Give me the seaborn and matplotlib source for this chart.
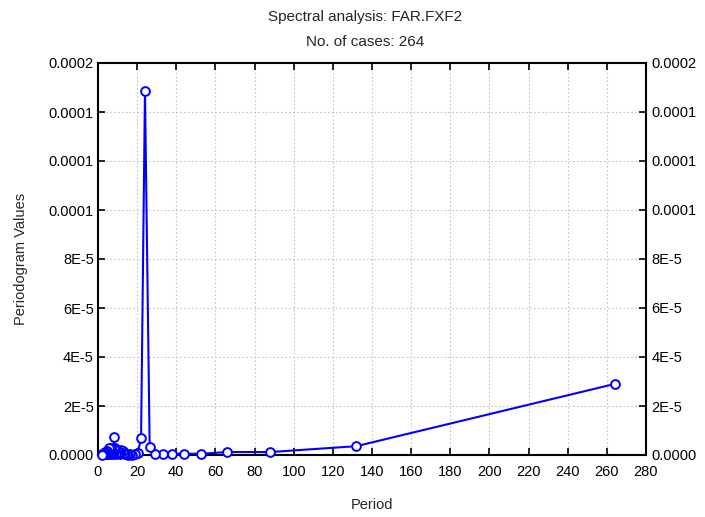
import matplotlib
matplotlib.use("Agg")
import matplotlib.pyplot as plt
import seaborn as sns
import pandas as pd

periods = [264, 132, 88, 66, 52.8, 44, 37.71, 33, 29.33, 26.4, 24, 22, 20.31,
           18.86, 17.6, 16.5, 15.53, 14.67, 13.89, 13.2, 12.57, 12, 11.48, 11,
           10.56, 10.15, 9.78, 9.43, 9.10, 8.8, 8.52, 8.25, 8, 7.76, 7.54, 7.33,
           7.14, 6.95, 6.77, 6.6, 6.29, 6, 5.74, 5.5, 5.28, 4.98, 4.71, 4.4,
           4.13, 3.88, 3.67, 3.38, 3.14, 2.93, 2.64, 2.4, 2.2, 2]
values_e6 = [29, 3.6, 1.2, 1.2, 0.5, 0.5, 0.5, 0.5, 0.4, 3.4, 148.5, 6.8, 1.0,
             0.3, 0.2, 0.3, 0.2, 0.3, 0.5, 1.0, 1.5, 2.2, 1.2, 0.6,
             0.8, 1.5, 0.8, 0.4, 1.0, 2.0, 3.0, 7.2, 2.5, 1.0, 0.5, 0.8,
             1.5, 0.8, 1.2, 3.0, 1.0, 0.5, 2.5, 3.0, 1.0, 0.6, 1.5, 0.5,
             0.8, 0.4, 1.2, 0.5, 0.8, 0.3, 0.6, 0.3, 0.4, 0.2]
x_ticks = list(range(0, 281, 20))
y_ticks = [0, 2e-5, 4e-5, 6e-5, 8e-5, 1e-4, 1.2e-4, 1.4e-4, 1.6e-4]
y_tick_labels = ["0.0000", "2E-5", "4E-5", "6E-5", "8E-5", "0.0001", "0.0001", "0.0001", "0.0002"]

df = pd.DataFrame({"Period": periods, "Value": [v * 1e-6 for v in values_e6]})

sns.set_style("white")
plt.rcParams['font.family'] = ['Liberation Sans', 'DejaVu Sans']
plt.rcParams['font.size'] = 10.5

fig = plt.figure(figsize=(7.05, 5.17), dpi=100)
ax = fig.add_axes([98/705, 1-455/517, (646-98)/705, (455-63)/517])

sns.lineplot(data=df, x="Period", y="Value", sort=False, ax=ax, color="#0000ff",
             linewidth=1.5, marker="o", markersize=6.3, markerfacecolor="white",
             markeredgecolor="#0000ff", markeredgewidth=1.4, zorder=5, clip_on=False)

ax.set_xlim(0, 280)
ax.set_ylim(0, 1.6e-4)
ax.set_xticks(x_ticks)
ax.set_yticks(y_ticks)
ax.set_yticklabels(y_tick_labels)
ax.grid(True, color="#c4c4c4", linestyle=(0, (1.5, 2)), linewidth=0.8)
ax.set_axisbelow(True)
ax.tick_params(axis="both", direction="in", length=5, width=1.2, colors="black",
               top=True, bottom=True, left=True, right=False)
ax.tick_params(axis="x", labelsize=10.5, pad=7)
ax.tick_params(axis="y", labelsize=10.5, pad=3)
for s in ax.spines.values():
    s.set_color("black")
    s.set_linewidth(1.5)
ax.set_xlabel("Period", fontsize=10.5, labelpad=14)
ax.set_ylabel("Periodogram Values", fontsize=10.5, labelpad=15)

ax2 = ax.twinx()
ax2.set_ylim(0, 1.6e-4)
ax2.set_yticks(y_ticks)
ax2.set_yticklabels(y_tick_labels)
ax2.tick_params(axis="y", direction="in", length=5, width=1.2, colors="black",
                labelsize=10.5, pad=4)
for s in ax2.spines.values():
    s.set_visible(False)

fig.text(365/705, 1-17/517, "Spectral analysis: FAR.FXF2", ha="center", va="center", fontsize=11)
fig.text(365/705, 1-42/517, "No. of cases: 264", ha="center", va="center", fontsize=11)

fig.savefig("out.png", dpi=100)
